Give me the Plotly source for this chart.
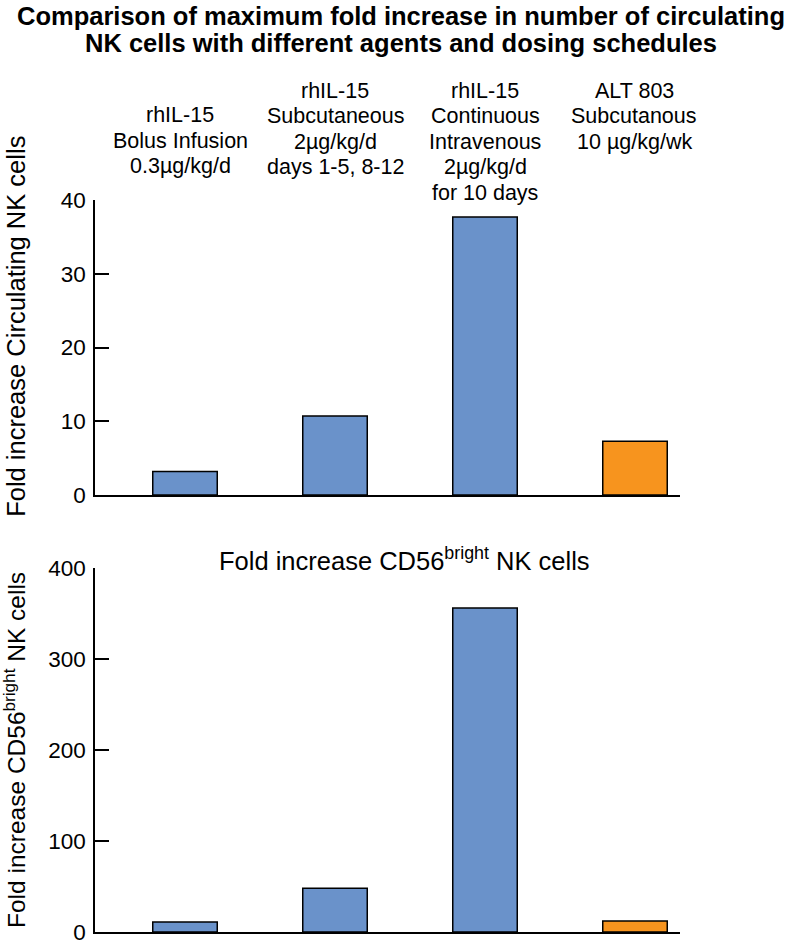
import plotly.graph_objects as go

categories = ["rhIL-15 bolus", "rhIL-15 SC", "rhIL-15 CIV", "ALT 803"]
cat_label_lines = [
    ["rhIL-15", "Bolus Infusion", "0.3\u00b5g/kg/d"],
    ["rhIL-15", "Subcutaneous", "2\u00b5g/kg/d", "days 1-5, 8-12"],
    ["rhIL-15", "Continuous", "Intravenous", "2\u00b5g/kg/d", "for 10 days"],
    ["ALT 803", "Subcutanous", "10 \u00b5g/kg/wk"],
]
fold_total = [3.2, 10.7, 37.7, 7.3]
fold_cd56bright = [11, 48, 356, 12]
bar_colors = ["#6A92CA", "#6A92CA", "#6A92CA", "#F7941E"]
title_lines = ["Comparison of maximum fold increase in number of circulating",
               "NK cells with different agents and dosing schedules"]
ytitle_top = "Fold increase Circulating NK cells"
ytitle_bottom = "Fold increase CD56<sup>bright</sup> NK cells"
panel2_title = "Fold increase CD56<sup>bright</sup> NK cells"

FONT = "Liberation Sans, Arial, sans-serif"
x_idx = list(range(len(categories)))

W, H = 791, 945
M_L, M_R, M_T, M_B = 95, 111, 200, 13
PH = H - M_T - M_B  # plot area height in px
top_domain = [1 - (495 - M_T) / PH, 1]
bot_domain = [0, 1 - (568 - M_T) / PH]

fig = go.Figure()
fig.add_trace(go.Bar(x=x_idx, y=fold_total, width=0.43,
                     marker=dict(color=bar_colors, line=dict(color="black", width=1.5)),
                     xaxis="x", yaxis="y", showlegend=False, hoverinfo="y"))
fig.add_trace(go.Bar(x=x_idx, y=fold_cd56bright, width=0.43,
                     marker=dict(color=bar_colors, line=dict(color="black", width=1.5)),
                     xaxis="x2", yaxis="y2", showlegend=False, hoverinfo="y"))

xcommon = dict(range=[-0.6, 3.3], showline=True, linecolor="black", linewidth=1.5,
               ticks="", showticklabels=False, showgrid=False, zeroline=False,
               fixedrange=True, automargin=False)
ycommon = dict(showline=True, linecolor="black", linewidth=1.5, ticks="inside", ticklen=14,
               tickwidth=1.5, tickcolor="black", showgrid=False, zeroline=False,
               tickfont=dict(family=FONT, size=22.5, color="black"), ticklabelstandoff=3,
               ticklabeloverflow="allow", automargin=False, fixedrange=True)

fig.update_layout(
    width=W, height=H,
    margin=dict(l=M_L, r=M_R, t=M_T, b=M_B),
    paper_bgcolor="white", plot_bgcolor="white",
    xaxis=dict(domain=[0, 1], anchor="y", **xcommon),
    yaxis=dict(domain=top_domain, range=[0, 40], tickvals=[0, 10, 20, 30, 40], anchor="x", **ycommon),
    xaxis2=dict(domain=[0, 1], anchor="y2", **xcommon),
    yaxis2=dict(domain=bot_domain, range=[0, 400], tickvals=[0, 100, 200, 300, 400], anchor="x2", **ycommon),
    font=dict(family=FONT, color="black"),
)

ann = []
# Title (two lines, tight spacing)
for txt, yc in zip(title_lines, [16, 43]):
    ann.append(dict(text="<b>%s</b>" % txt, xref="paper", yref="paper", x=(401 - M_L) / (W - M_L - M_R), y=1,
                    xanchor="center", yanchor="middle", yshift=M_T - yc, showarrow=False,
                    font=dict(family=FONT, size=25.5, color="black")))
# Category labels above the top panel, one annotation per line
first_line = [115, 90.5, 90.5, 90.5]
col_shift = [-5, 0, 0, -1]
for i, lines in enumerate(cat_label_lines):
    for k, line in enumerate(lines):
        yc = first_line[i] + 25.5 * k
        ann.append(dict(text=line, xref="x", yref="paper", x=i, y=1, xanchor="center",
                        yanchor="middle", xshift=col_shift[i], yshift=M_T - yc, showarrow=False,
                        font=dict(family=FONT, size=21.5, color="black")))
# Y titles
ann.append(dict(text=ytitle_top, textangle=-90,
                xref="paper", yref="y domain", x=0, y=0.57, xanchor="center", yanchor="middle",
                xshift=-(M_L - 16), showarrow=False, font=dict(family=FONT, size=25.5, color="black")))
ann.append(dict(text=ytitle_bottom, textangle=-90,
                xref="paper", yref="y2 domain", x=0, y=0.5, xanchor="center", yanchor="middle",
                xshift=-(M_L - 14), showarrow=False, font=dict(family=FONT, size=24.5, color="black")))
# Bottom panel title
ann.append(dict(text=panel2_title, xref="paper", yref="y2 domain", x=(404 - M_L) / (W - M_L - M_R), y=1,
                xanchor="center", yanchor="middle", yshift=9, showarrow=False,
                font=dict(family=FONT, size=25.5, color="black")))
fig.update_layout(annotations=ann)

fig.write_html("out.html", config={"displayModeBar": False},
               post_script="document.body.style.margin='0';")
